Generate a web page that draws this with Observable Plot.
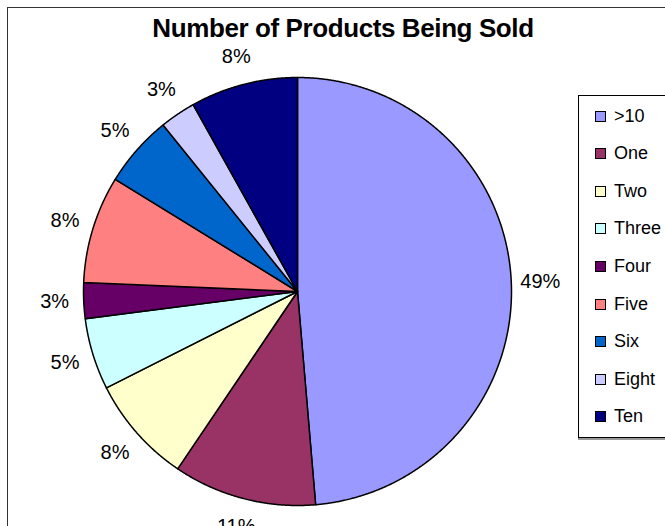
<!DOCTYPE html>
<html><head><meta charset="utf-8">
<script src="https://cdn.jsdelivr.net/npm/d3@7"></script>
<script src="https://cdn.jsdelivr.net/npm/@observablehq/plot@0.6"></script>
<style>
body{margin:0;background:#fff;}
#wrap{position:relative;width:665px;height:526px;overflow:hidden;font-family:"Liberation Sans",Arial,sans-serif;color:#000;background:#fff;}
#frame{position:absolute;left:7px;top:7px;width:720px;height:600px;border-left:1.5px solid #333;border-top:1.5px solid #333;}
#chart{position:absolute;left:0;top:0;}
#title{position:absolute;left:0;width:686px;top:13px;text-align:center;font-weight:bold;font-size:26px;letter-spacing:-0.4px;}
#legend{position:absolute;left:578px;top:95px;width:120px;height:341px;border:1px solid #000;box-shadow:0 2px 0 #999;background:#fff;}
.row{position:absolute;left:0;height:20px;display:flex;align-items:center;font-size:18px;}
.sw{width:9px;height:9px;border:1px solid #000;margin-left:16px;margin-right:8px;}
</style>
</head><body>
<div id="wrap">
  <div id="frame"></div>
  <div id="chart"></div>
  <div id="title">Number of Products Being Sold</div>
  <div id="legend"></div>
</div>
<script>
const categories = [">10","One","Two","Three","Four","Five","Six","Eight","Ten"];
const counts = [18,4,3,2,1,3,2,1,3];
const colors = ["#9999FF","#993366","#FFFFCC","#CCFFFF","#660066","#FF8080","#0066CC","#CCCCFF","#000080"];

const total = d3.sum(counts);
const slices = [];
let acc = 0;
categories.forEach((c,i)=>{
  const a0 = acc/total*2*Math.PI;
  acc += counts[i];
  const a1 = acc/total*2*Math.PI;
  slices.push({cat:c, a0, a1, value:counts[i]});
});

const pts = [];
for (const s of slices) {
  pts.push({cat:s.cat, x:0, y:0});
  const n = Math.max(2, Math.ceil((s.a1-s.a0)/0.005));
  for (let k=0;k<=n;k++){
    const a = s.a0 + (s.a1-s.a0)*k/n;
    pts.push({cat:s.cat, x:Math.sin(a), y:Math.cos(a)});
  }
}

const labelR = 1.136;
const labels = slices.map(s=>{
  const m = (s.a0+s.a1)/2;
  return {x:labelR*Math.sin(m), y:labelR*Math.cos(m), text:Math.round(s.value/total*100)+"%"};
});

const chart = Plot.plot({
  width:665, height:526,
  marginLeft:83, marginRight:154, marginTop:77, marginBottom:21,
  x:{domain:[-1,1], axis:null},
  y:{domain:[-1,1], axis:null},
  color:{domain:categories, range:colors},
  style:{fontFamily:'"Liberation Sans", Arial, sans-serif', background:"transparent", overflow:"visible"},
  marks:[
    Plot.line(pts,{x:"x", y:"y", z:"cat", fill:"cat", stroke:"#000", strokeWidth:1.5, curve:"linear-closed"}),
    Plot.text(labels,{x:"x", y:"y", text:"text", fontSize:20, fill:"#000"})
  ]
});
document.getElementById("chart").appendChild(chart);

const legend = document.getElementById("legend");
categories.forEach((c,i)=>{
  const row = document.createElement("div");
  row.className = "row";
  row.style.top = (10 + i*37.6) + "px";
  const sw = document.createElement("div");
  sw.className = "sw";
  sw.style.background = colors[i];
  const t = document.createElement("span");
  t.textContent = c;
  row.appendChild(sw); row.appendChild(t);
  legend.appendChild(row);
});
</script>
</body></html>
